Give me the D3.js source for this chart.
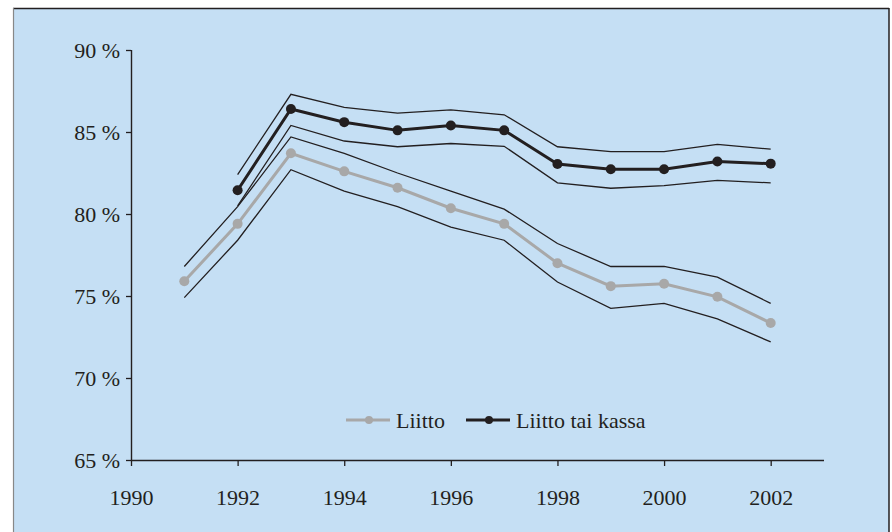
<!DOCTYPE html>
<html>
<head>
<meta charset="utf-8">
<script src="https://cdn.jsdelivr.net/npm/d3@7"></script>
<style>
  body { margin: 0; background: #fff; }
  svg { display: block; }
</style>
</head>
<body>
<svg id="chart"></svg>
<script>
// data (percent)
const years = [1991, 1992, 1993, 1994, 1995, 1996, 1997, 1998, 1999, 2000, 2001, 2002];

const liitto      = [75.9, 79.4, 83.7, 82.6, 81.6, 80.35, 79.4, 77.0, 75.6, 75.75, 74.95, 73.35];
const liittoHigh  = [76.8, 80.45, 84.7, 83.7, 82.5, 81.4, 80.3, 78.2, 76.8, 76.8, 76.15, 74.55];
const liittoLow   = [74.9, 78.4, 82.7, 81.4, 80.45, 79.2, 78.4, 75.85, 74.25, 74.55, 73.6, 72.2];

const kassa       = [null, 81.45, 86.4, 85.6, 85.1, 85.4, 85.1, 83.05, 82.73, 82.73, 83.2, 83.07];
const kassaHigh   = [null, 82.4, 87.3, 86.5, 86.15, 86.35, 86.05, 84.1, 83.8, 83.8, 84.25, 83.95];
const kassaLow    = [null, 80.5, 85.4, 84.45, 84.1, 84.3, 84.13, 81.9, 81.57, 81.73, 82.05, 81.9];

const yTicks = [65, 70, 75, 80, 85, 90];
const xTicks = [1990, 1992, 1994, 1996, 1998, 2000, 2002];
const seriesNames = ["Liitto", "Liitto tai kassa"];

const FONT = "'Liberation Serif', 'Times New Roman', 'DejaVu Serif', serif";
const INK = "#231f20";

const W = 892, H = 532;
const svg = d3.select("#chart").attr("width", W).attr("height", H);

// panel
svg.append("rect")
    .attr("x", 13).attr("y", 8)
    .attr("width", 876).attr("height", H)
    .attr("fill", "#c5dff4");
svg.append("line").attr("x1", 13).attr("x2", 889).attr("y1", 8.5).attr("y2", 8.5)
    .attr("stroke", INK).attr("stroke-width", 1.5);
svg.append("line").attr("x1", 13.5).attr("x2", 13.5).attr("y1", 8).attr("y2", H)
    .attr("stroke", "#888").attr("stroke-width", 1.2);
svg.append("line").attr("x1", 889).attr("x2", 889).attr("y1", 8).attr("y2", H)
    .attr("stroke", INK).attr("stroke-width", 1.5);

const x = d3.scaleLinear().domain([1990, 2003]).range([131, 824]);
const y = d3.scaleLinear().domain([65, 90]).range([460, 50]);

// axes
const yAxis = d3.axisLeft(y).tickValues(yTicks).tickSize(5).tickSizeOuter(0)
    .tickFormat(d => d + " %");
const xAxis = d3.axisBottom(x).tickValues(xTicks).tickSize(6).tickSizeOuter(0)
    .tickFormat(d3.format("d"));

const yG = svg.append("g").attr("transform", "translate(131,0)").call(yAxis);
const xG = svg.append("g").attr("transform", "translate(0,460)").call(xAxis);

[yG, xG].forEach(g => {
    g.attr("font-family", null).attr("font-size", null);
    g.select(".domain").attr("stroke", INK).attr("stroke-width", 1.4);
    g.selectAll(".tick line").attr("stroke", INK).attr("stroke-width", 1.3);
    g.selectAll("text").style("font-family", FONT).attr("fill", INK);
});
yG.select(".domain").attr("d", "M0.5,50V460");
yG.selectAll("text").style("font-size", "22px").attr("x", -11).attr("dy", "0.35em");
xG.selectAll("text").style("font-size", "22px").attr("y", 29).attr("dy", "0.71em");
xG.select(".domain").attr("d", "M131,0.5H824");

const line = vals => d3.line()
    .defined((d, i) => vals[i] != null)
    .x((d, i) => x(years[i]))
    .y((d, i) => y(vals[i]))(years);

// confidence bands
[liittoHigh, liittoLow, kassaHigh, kassaLow].forEach(v => {
    svg.append("path").attr("d", line(v))
        .attr("fill", "none").attr("stroke", INK).attr("stroke-width", 1.3);
});

const series = [
    {name: seriesNames[0], vals: liitto, color: "#a8a8a8"},
    {name: seriesNames[1], vals: kassa, color: INK}
];

series.forEach(s => {
    svg.append("path").attr("d", line(s.vals))
        .attr("fill", "none").attr("stroke", s.color).attr("stroke-width", 3);
    svg.selectAll(null)
        .data(years.map((yr, i) => [yr, s.vals[i]]).filter(d => d[1] != null))
        .join("circle")
        .attr("cx", d => x(d[0])).attr("cy", d => y(d[1]))
        .attr("r", 5).attr("fill", s.color);
});

// legend
const legend = svg.append("g").attr("transform", "translate(346,420)");
const legX = [0, 120];
series.forEach((s, i) => {
    const g = legend.append("g").attr("transform", `translate(${legX[i]},0)`);
    g.append("line").attr("x1", 0).attr("x2", 44).attr("y1", 0).attr("y2", 0)
        .attr("stroke", s.color).attr("stroke-width", 3);
    g.append("circle").attr("cx", 23).attr("cy", 0).attr("r", 4).attr("fill", s.color);
    g.append("text").attr("x", 50).attr("y", 0).attr("dy", "0.35em")
        .style("font-family", FONT).style("font-size", "22px").attr("fill", INK)
        .text(s.name);
});
</script>
</body>
</html>
